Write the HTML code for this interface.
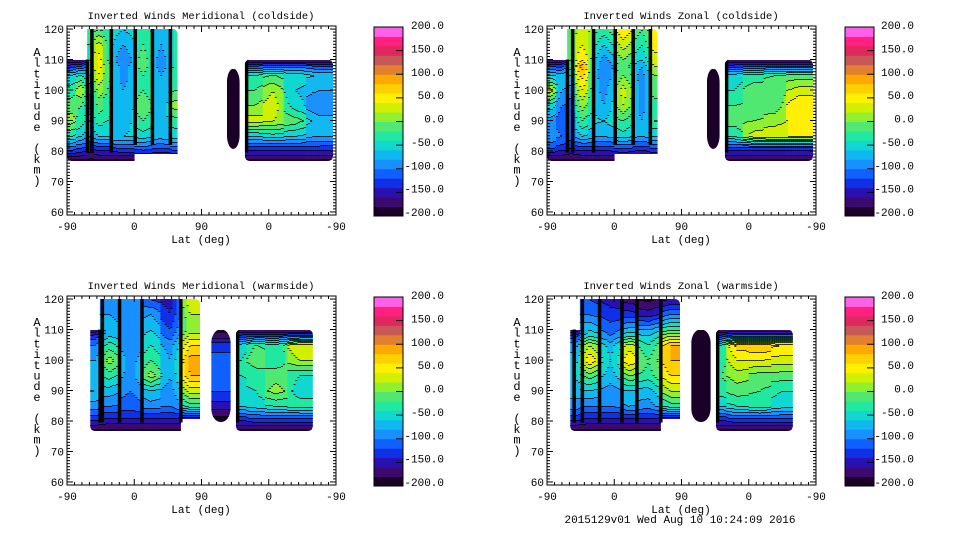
<!DOCTYPE html>
<html><head><meta charset="utf-8"><style>
html,body{margin:0;padding:0;background:#fff;}
svg{display:block;font-family:"Liberation Mono",monospace;}
</style></head><body>
<svg id="root" width="960" height="540" viewBox="0 0 960 540" xmlns="http://www.w3.org/2000/svg">
<rect width="960" height="540" fill="#fff"/>
<text x="680" y="523" font-size="11" text-anchor="middle">2015129v01 Wed Aug 10 10:24:09 2016</text>
</svg>
<script>
// Shared altitude nodes (km) for each strip's values
const ALT = [77, 81, 85, 90, 95, 100, 105, 108, 110, 115, 120];
const levelLabels = [200, 150, 100, 50, 0, -50, -100, -150, -200];
const yTicks = [60, 70, 80, 90, 100, 110, 120];
const xTickLabels = ["-90", "0", "90", "0", "-90"];
const bandColors = ['#1a0026','#3c0a6e','#2a10b0','#1030e8','#1060ff','#1890ff','#10b8f0','#10d8d0','#20e8a0','#50e870','#90f030','#d0f000','#fff000','#ffd000','#ffa800','#e08030','#c85858','#e02860','#ff2080','#ff60e8'];
const titles = ["Inverted Winds Meridional (coldside)","Inverted Winds Zonal (coldside)","Inverted Winds Meridional (warmside)","Inverted Winds Zonal (warmside)"];

// strips: [u0, u1, altLo, altHi, values at ALT]; u runs 0..360 along the axis (-90,0,90,0,-90)
const stripsP1 = [
 [0,12,77,110,[-185,-110,-40,10,-10,-30,-60,-130,-185]],
 [12,27,77,110,[-185,-120,-60,-30,-20,20,-40,-120,-185]],
 [27,36,77,120,[-185,-150,-100,-80,-130,-120,-80,-60,-60,-40,-40]],
 [36,48,77,120,[-185,-130,-60,-30,-10,10,40,50,50,30,-20]],
 [48,60,77,120,[-185,-130,-60,-40,-30,-20,-10,-10,-20,-20,-30]],
 [60,90,77,120,[-185,-120,-60,-70,-80,-80,-90,-90,-100,-80,-60]],
 [90,114,79.5,120,[-185,-110,-50,-20,0,-20,-20,-10,-10,-20,-30]],
 [114,138,79.5,120,[-185,-120,-70,-70,-80,-80,-80,-90,-90,-80,-80]],
 [138,148,79.5,120,[-185,-110,-50,-30,10,-20,-30,-40,-40,-40,-40]],
 [214,231,81,107,[-200,-200,-190,-200,-190,-180,-190,-200,-200]],
 [238,262,77,110,[-185,-130,-60,30,0,-20,-40,-120,-185]],
 [262,290,77,110,[-185,-130,-50,20,30,20,-20,-110,-185]],
 [290,320,77,110,[-185,-130,-60,-10,-50,-60,-50,-110,-185]],
 [320,356,77,110,[-185,-130,-80,-70,-100,-80,-60,-120,-185]]
];
const sepP1 = [27, 33, 59, 91, 114, 138, 240];
const stripsP2 = [
 [0,12,77,110,[-185,-120,-80,-90,-50,30,-60,-120,-185]],
 [12,27,77,110,[-185,-130,-100,-110,-100,-80,-70,-130,-185]],
 [27,38,77,120,[-185,-140,-110,-120,-110,-90,-60,-20,-20,-10,-20]],
 [38,55,77,120,[-185,-130,-60,-20,10,40,70,90,60,40,30]],
 [55,62,77,120,[-185,-130,-70,-50,-30,-20,-10,0,0,10,20]],
 [62,90,77,120,[-185,-130,-80,-60,-80,-90,-100,-100,-90,-60,-30]],
 [90,115,79.5,120,[-185,-120,-50,-20,20,30,0,-10,0,30,60]],
 [115,138,79.5,120,[-185,-130,-80,-80,-90,-90,-90,-80,-60,-40,-20]],
 [138,148,79.5,120,[-185,-120,-60,-20,-30,-10,0,20,30,50,60]],
 [214,231,81,107,[-200,-200,-190,-200,-190,-180,-190,-200,-200]],
 [238,262,77,110,[-185,-130,-40,-10,-20,-40,-50,-130,-185]],
 [262,290,77,110,[-185,-130,30,0,-10,-10,-30,-120,-185]],
 [290,320,77,110,[-185,-130,40,10,-10,-10,-20,-120,-185]],
 [320,356,77,110,[-185,-130,40,50,60,30,-10,-120,-185]]
];
const sepP2 = [27, 34, 62, 91, 115, 138, 240];
const stripsP3 = [
 [31,44,77,110,[-185,-130,-90,-60,-70,-80,-100,-130,-185]],
 [44,70,77,120,[-185,-140,-100,-70,-30,10,-30,-60,-70,-80,-90]],
 [70,100,77,120,[-185,-140,-110,-100,-90,-90,-100,-100,-100,-100,-90]],
 [100,125,77,120,[-185,-140,-90,-60,10,-20,-40,-50,-60,-80,-120]],
 [125,152,77,120,[-185,-140,-100,-90,-80,-80,-90,-110,-120,-140,-150]],
 [152,178,81,120,[-185,-150,-30,30,80,90,60,30,10,20,40]],
 [193,219,80,110,[-185,-185,-150,-120,-110,-110,-130,-170,-185]],
 [226,240,77,110,[-185,-130,-60,-50,-40,-40,-50,-130,-185]],
 [240,265,77,110,[-185,-120,-50,-40,-30,-10,-20,-120,-185]],
 [265,295,77,110,[-185,-120,-40,10,-10,-30,-30,-120,-185]],
 [295,329,77,110,[-185,-120,-30,-50,-40,20,40,-110,-185]]
];
const sepP3 = [44, 47, 70, 100, 152, 228];
const stripsP4 = [
 [31,44,77,110,[-185,-130,-90,-70,-60,-70,-90,-130,-185]],
 [44,70,77,120,[-185,-140,-100,-60,-10,60,20,-40,-60,-100,-120]],
 [70,100,77,120,[-185,-140,-100,-90,-70,-60,-70,-100,-110,-130,-150]],
 [100,120,77,120,[-185,-140,-80,-60,0,60,30,-40,-70,-130,-170]],
 [120,152,77,120,[-185,-140,-90,-70,-30,-20,-40,-60,-80,-150,-185]],
 [152,178,81,120,[-185,-150,-30,20,60,80,80,20,-20,-100,-160]],
 [193,219,80,110,[-185,-200,-200,-200,-200,-200,-200,-200,-185]],
 [226,240,77,110,[-185,-130,-60,-30,-20,-30,-40,-130,-185]],
 [240,270,77,110,[-185,-120,-40,-10,10,40,70,-100,-185]],
 [270,300,77,110,[-185,-120,-30,-20,-10,40,80,-100,-185]],
 [300,329,77,110,[-185,-120,-50,-40,-10,30,60,-100,-185]]
];
const sepP4 = [36, 47, 70, 100, 120, 152, 228];

const NS = "http://www.w3.org/2000/svg";
const root = document.getElementById('root');
function mk(tag, attrs, parent){const e=document.createElementNS(NS,tag);for(const k in attrs)e.setAttribute(k,attrs[k]);(parent||root).appendChild(e);return e;}

const panels = [
 {ox:0, oy:0, strips:stripsP1, seps:sepP1, cbx:374, lbx:444},
 {ox:480, oy:0, strips:stripsP2, seps:sepP2, cbx:365, lbx:434},
 {ox:0, oy:270, strips:stripsP3, seps:sepP3, cbx:374, lbx:444},
 {ox:480, oy:270, strips:stripsP4, seps:sepP4, cbx:365, lbx:434}
];
const PX0=67, PX1=336, PY0=26, PY1=215, AMIN=59, AMAX=121;

function interp(vals, a){
  for(let i=0;i<vals.length-1;i++){
    if(a>=ALT[i] && a<=ALT[i+1]){const t=(a-ALT[i])/(ALT[i+1]-ALT[i]);return vals[i]+(vals[i+1]-vals[i])*t;}
  }
  return a<ALT[0]?vals[0]:vals[vals.length-1];
}
function band(v){let b=Math.floor((v+200)/20);return Math.max(0,Math.min(19,b));}

let clipId=0;
panels.forEach((p,pi)=>{
  const g = mk('g',{transform:`translate(${p.ox},${p.oy})`});
  
  
  const xs = u => PX0 + u/360*(PX1-PX0);
  const ys = a => PY0 + (AMAX-a)/(AMAX-AMIN)*(PY1-PY0);
  const t = mk('text',{x:201,y:19,'font-size':10.5,'text-anchor':'middle'},g);
  t.textContent = titles[pi];
  
  
  const blocks=[]; 
  p.strips.forEach((s,i)=>{
    const prev=p.strips[i-1];
    if(prev && Math.abs(prev[1]-s[0])<0.01) blocks[blocks.length-1].push(s); else blocks.push([s]);
  });
  blocks.forEach(bl=>{
    const u0=bl[0][0], u1=bl[bl.length-1][1];
    const lo=Math.min(...bl.map(s=>s[2])), hi=Math.max(...bl.map(s=>s[3]));
    const id='clip'+(clipId++);
    const cp=mk('clipPath',{id:id},g);
    const narrow = bl.length===1 && (u1-u0)<30;
    mk('rect',{x:xs(u0),y:ys(hi),width:xs(u1)-xs(u0),height:ys(lo)-ys(hi)+1,rx:narrow?9:5,ry:narrow?14:5},cp);
    const field = mk('g',{'clip-path':`url(#${id})`},g);
    
    
    bl.forEach((s,si)=>{
      const [su0,su1,slo,shi]=s;
      const xa=xs(su0), xb=xs(su1);
      const yTop=Math.round(ys(shi)), yBot=Math.round(ys(slo));
      const prev=bl[si-1], next=bl[si+1];
      const cu=(su0+su1)/2;
      for(let x=xa;x<xb;x+=2){
        const w=Math.min(2,xb-x);
        const u=su0+(x+w/2-xa)/(xb-xa)*(su1-su0);
        let nb=null, tt=0;
        if(u<cu && prev){nb=prev; tt=(cu-u)/(cu-(prev[0]+prev[1])/2);}
        else if(u>=cu && next){nb=next; tt=(u-cu)/((next[0]+next[1])/2-cu);}
        const val=a=>{let v=interp(s[4],a); if(nb && a>=nb[2] && a<=nb[3]) v=v*(1-tt*0.5)+interp(nb[4],a)*tt*0.5; return v;};
        let runStart=yTop, runBand=null; const runs=[];
        for(let y=yTop;y<=yBot;y++){
          const a=AMAX-(y+0.5-PY0)/(PY1-PY0)*(AMAX-AMIN);
          const b=band(val(a));
          if(runBand===null){runBand=b;runStart=y;}
          else if(b!==runBand){runs.push([runStart,y,runBand]);runStart=y;runBand=b;}
        }
        runs.push([runStart,yBot+1,runBand]);
        runs.forEach((r,i)=>{
          const rc=mk('rect',{x:x,y:r[0],width:w+0.3,height:r[1]-r[0],fill:bandColors[r[2]]},field);
          
          
          if(i>0){const ln=mk('rect',{x:x,y:r[0],width:w+0.3,height:0.8,fill:'#000'},field);
            
            }
        });
      }
    });
    p.seps.forEach(u=>{
      if(u<u0||u>u1) return;
      const s=bl.find(s=>u>=s[0]&&u<=s[1]);
      const r=mk('rect',{x:xs(u)-1.5,y:ys(s[3]),width:3.5,height:ys(s[2]+2.5)-ys(s[3]),fill:'#000'},field);
      
      
    });
  });
  const fr=mk('rect',{x:PX0,y:PY0,width:PX1-PX0,height:PY1-PY0,fill:'none',stroke:'#000','stroke-width':1},g);
  
  
  for(let a=60;a<=120;a++){
    const len = a%10===0?6:3; const y=ys(a);
    mk('line',{x1:PX0,y1:y,x2:PX0+len,y2:y,stroke:'#000'},g);
    mk('line',{x1:PX1,y1:y,x2:PX1-len,y2:y,stroke:'#000'},g);
  }
  yTicks.forEach(a=>{
    const tl=mk('text',{x:PX0-3,y:ys(a)+4,'font-size':11,'text-anchor':'end'},g);
    tl.textContent=a;
    
    
  });
  for(let u=0;u<=360;u+=10){
    const len=u%90===0?6:3;
    mk('line',{x1:xs(u),y1:PY1,x2:xs(u),y2:PY1-len,stroke:'#000'},g);
    mk('line',{x1:xs(u),y1:PY0,x2:xs(u),y2:PY0+len,stroke:'#000'},g);
  }
  xTickLabels.forEach((l,i)=>{
    const tl=mk('text',{x:xs(i*90),y:PY1+15,'font-size':11,'text-anchor':'middle'},g);
    tl.textContent=l;
    
    
  });
  const xt=mk('text',{x:201,y:PY1+28,'font-size':11,'text-anchor':'middle'},g);
  xt.textContent='Lat (deg)';
  
  
  const yt=mk('g',{},g);
  
  
  'Altitude (km)'.split('').forEach((c,i)=>{
    const tc=mk('text',{x:37,y:56+i*10.7,'font-size':12,'text-anchor':'middle'},yt);
    tc.textContent=c;
  });
  const cb=mk('g',{},g);
  
  
  const cy0=27, cy1=216, ch=(cy1-cy0)/bandColors.length;
  bandColors.forEach((c,i)=>{
    mk('rect',{x:p.cbx,y:cy1-(i+1)*ch,width:29,height:ch+0.5,fill:c},cb);
  });
  mk('rect',{x:p.cbx,y:cy0,width:29,height:cy1-cy0,fill:'none',stroke:'#000'},cb);
  levelLabels.forEach(v=>{
    const y=cy0+(200-v)/400*(cy1-cy0);
    mk('line',{x1:p.cbx+29,y1:y,x2:p.cbx+22,y2:y,stroke:'#000'},cb);
    const tl=mk('text',{x:p.lbx,y:25+(200-v)/400*187+4,'font-size':11,'text-anchor':'end'},cb);
    tl.textContent=v.toFixed(1);
    
    
  });
});
</script>
</body></html>
